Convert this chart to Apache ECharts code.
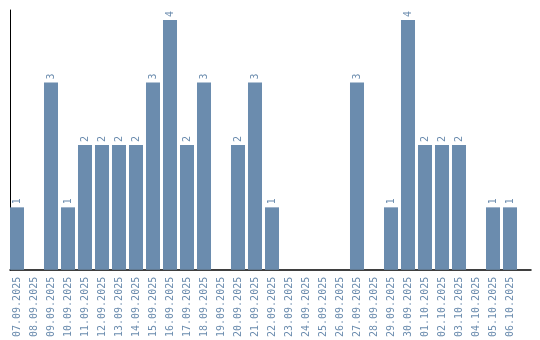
<!DOCTYPE html>
<html><head><meta charset="utf-8">
<script src="https://cdn.jsdelivr.net/npm/echarts@6/dist/echarts.min.js"></script>
<style>html,body{margin:0;padding:0;background:#fff}#c{width:540px;height:340px}</style>
</head><body><div id="c"></div>
<script>
var categories = ["07.09.2025","08.09.2025","09.09.2025","10.09.2025","11.09.2025","12.09.2025","13.09.2025","14.09.2025","15.09.2025","16.09.2025","17.09.2025","18.09.2025","19.09.2025","20.09.2025","21.09.2025","22.09.2025","23.09.2025","24.09.2025","25.09.2025","26.09.2025","27.09.2025","28.09.2025","29.09.2025","30.09.2025","01.10.2025","02.10.2025","03.10.2025","04.10.2025","05.10.2025","06.10.2025"];
var values = [1,0,3,1,2,2,2,2,3,4,2,3,0,2,3,1,0,0,0,0,3,0,1,4,2,2,2,0,1,1];
var chart = echarts.init(document.getElementById('c'));
chart.setOption({
  animation:false,
  grid:[{left:8.5,width:510,top:10,bottom:70},{left:10,right:9,top:10,bottom:70}],
  xAxis:[{type:'category',data:categories,gridIndex:0,
    axisLine:{show:false},
    axisTick:{show:false},
    axisLabel:{rotate:90,interval:0,fontFamily:'DejaVu Sans Mono',fontSize:10,color:'#6b8cae',margin:7}},
    {type:'value',gridIndex:1,min:0,max:1,axisLine:{show:true,lineStyle:{color:'#000',width:1.5}},
     axisTick:{show:false},axisLabel:{show:false},splitLine:{show:false}}],
  yAxis:[{type:'value',gridIndex:0,min:0,max:4.16,
    axisLine:{show:false},
    axisTick:{show:false},axisLabel:{show:false},splitLine:{show:false}},
    {type:'value',gridIndex:1,min:0,max:1,axisLine:{show:true,lineStyle:{color:'#000',width:1}},
     axisTick:{show:false},axisLabel:{show:false},splitLine:{show:false}}],
  series:[{type:'bar',xAxisIndex:0,yAxisIndex:0,z:1,
    data:values.map(function(v){return v===0?{value:v,label:{show:false}}:v;}),barCategoryGap:'17.6%',
    itemStyle:{color:'#6b8cae'},
    label:{show:true,position:'top',rotate:90,align:'left',verticalAlign:'middle',distance:3,
      fontFamily:'DejaVu Sans Mono',fontSize:10,color:'#6b8cae'}}]
});
</script></body></html>
